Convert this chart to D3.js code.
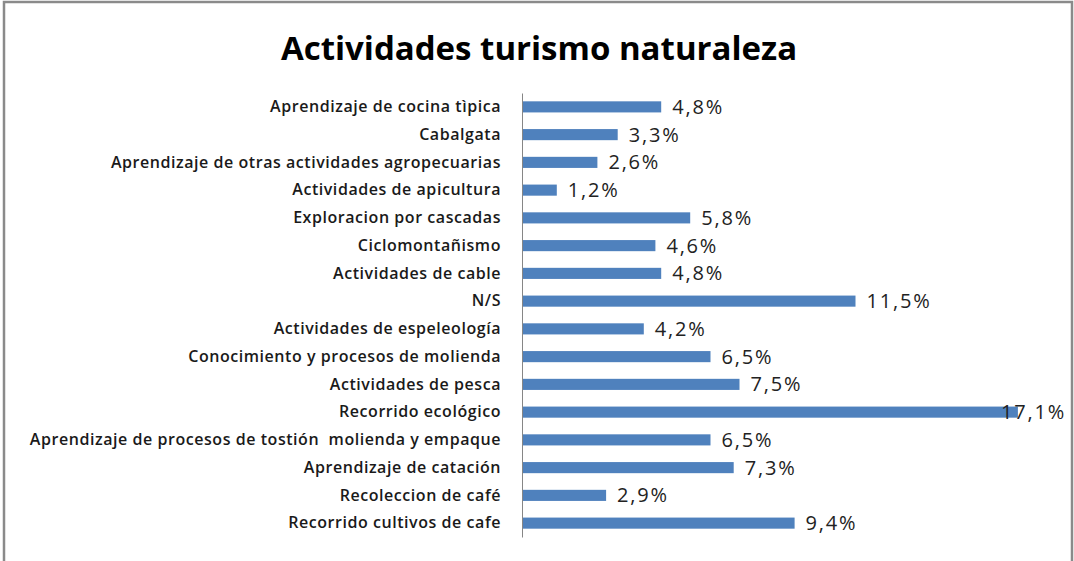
<!DOCTYPE html>
<html>
<head>
<meta charset="utf-8">
<script src="https://cdn.jsdelivr.net/npm/d3@7"></script>
<style>
  body { margin: 0; background: #fff; }
  svg text { font-family: "Open Sans", "Noto Sans", sans-serif; }
</style>
</head>
<body>
<svg id="chart" width="1074" height="561"></svg>
<script>
var categories = [
  "Aprendizaje de cocina tìpica",
  "Cabalgata",
  "Aprendizaje de otras actividades agropecuarias",
  "Actividades de apicultura",
  "Exploracion por cascadas",
  "Ciclomontañismo",
  "Actividades de cable",
  "N/S",
  "Actividades de espeleología",
  "Conocimiento y procesos de molienda",
  "Actividades de pesca",
  "Recorrido ecológico",
  "Aprendizaje de procesos de tostión  molienda y empaque",
  "Aprendizaje de catación",
  "Recoleccion de café",
  "Recorrido cultivos de cafe"
];
var values = [4.8, 3.3, 2.6, 1.2, 5.8, 4.6, 4.8, 11.5, 4.2, 6.5, 7.5, 17.1, 6.5, 7.3, 2.9, 9.4];
var xDomain = [0, 18];
var title = "Actividades turismo naturaleza";

var data = categories.map(function(c, i){ return { name: c, value: values[i] }; });

var svg = d3.select("#chart");

// outer frame
svg.append("rect")
    .attr("x", 4).attr("y", 2)
    .attr("width", 1068).attr("height", 600)
    .attr("fill", "#fff")
    .attr("stroke", "#8a8a8a")
    .attr("stroke-width", 2.5);

svg.append("text")
    .attr("x", 539).attr("y", 60)
    .attr("text-anchor", "middle")
    .attr("font-size", 33)
    .attr("font-weight", "bold")
    .attr("fill", "#000")
    .text(title);

var x = d3.scaleLinear().domain(xDomain).range([522, 1044]);
var y = d3.scaleBand()
    .domain(categories)
    .range([93, 537])
    .paddingInner(0.6)
    .paddingOuter(0.3);

svg.append("g")
    .selectAll("rect")
    .data(data)
    .enter()
    .append("rect")
    .attr("x", x(0))
    .attr("y", function(d){ return y(d.name); })
    .attr("width", function(d){ return x(d.value) - x(0); })
    .attr("height", y.bandwidth())
    .attr("fill", "#4f81bd");

var yAxis = svg.append("g")
    .attr("transform", "translate(" + x(0) + ",0)")
    .call(d3.axisLeft(y).tickSize(0).tickSizeOuter(0).tickPadding(21));

yAxis.select(".domain").attr("stroke", "#868686").attr("stroke-width", 1);
yAxis.selectAll("text")
    .attr("font-size", 16)
    .attr("font-weight", 600)
    .attr("letter-spacing", 0.55)
    .attr("fill", "#1a1a1a")
    .style("font-family", "\"Open Sans\", sans-serif")
    .style("white-space", "pre")
    .attr("dy", "0.33em");

// value labels; the widest one is pulled back inside the frame like Excel does
var labels = svg.append("g")
    .selectAll("text")
    .data(data)
    .enter()
    .append("text")
    .attr("y", function(d){ return y(d.name) + y.bandwidth() / 2 + 7; })
    .attr("font-size", 20)
    .attr("letter-spacing", 1.8)
    .attr("fill", "#222")
    .text(function(d){ return d3.format(".1f")(d.value).replace(".", ",") + "%"; });

labels.attr("x", function(d){
  var w = this.getComputedTextLength();
  return Math.min(x(d.value) + 11, 1066 - w);
});
</script>
</body>
</html>
